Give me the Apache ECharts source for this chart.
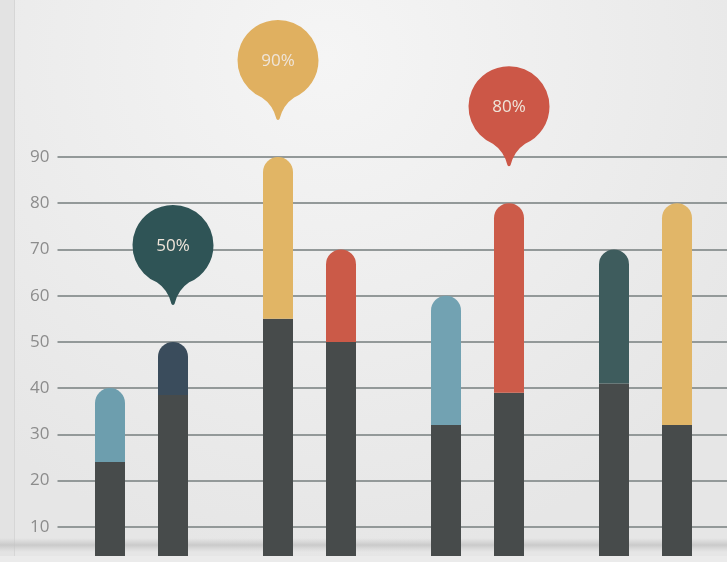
<!DOCTYPE html>
<html>
<head>
<meta charset="utf-8">
<script src="https://cdn.jsdelivr.net/npm/echarts@6/dist/echarts.min.js"></script>
<style>html,body{margin:0;padding:0;background:#ececec;}#c{width:727px;height:562px;}</style>
</head>
<body>
<div id="c"></div>
<script>
// ---- data ----
const groups = ['A', 'B', 'C', 'D'];
const leftBase  = [24, 55, 32, 41];
const leftTotal = [40, 90, 60, 70];
const rightBase  = [38.5, 50, 39, 32];
const rightTotal = [50, 70, 80, 80];
const leftTopColors  = ['#6d9eae', '#e1b565', '#72a2b2', '#3e5c5d'];
const rightTopColors = ['#3a4c5c', '#cb5a48', '#cc5b49', '#e1b668'];
const baseColor = '#474b4b';
const yTicks = [10, 20, 30, 40, 50, 60, 70, 80, 90];
// callouts: [group, text, colour]
const leftPins  = [['B', '90%', '#e0b060']];
const rightPins = [['A', '50%', '#2f5456'], ['C', '80%', '#cc5747']];

const pinPath = 'path://M40,0 A40,40 0 0 1 56,76.7 Q45,84 41.5,98 Q40,100 38.5,98 Q35,84 24,76.7 A40,40 0 0 1 40,0 Z';

function topPart(base, total, colors) {
  return total.map((t, i) => ({ value: t - base[i], itemStyle: { color: colors[i] } }));
}
function pins(list, totals) {
  return list.map(p => {
    const idx = groups.indexOf(p[0]);
    return {
      coord: [p[0], totals[idx]],
      value: p[1],
      itemStyle: { color: p[2] }
    };
  });
}
const markPointBase = {
  symbol: pinPath,
  symbolSize: [81, 100],
  symbolOffset: [0, -87],
  silent: true,
  label: {
    show: true, position: 'inside', offset: [0, -9],
    formatter: p => p.value,
    color: '#efe5da', fontSize: 17, fontFamily: 'Open Sans'
  }
};

const chart = echarts.init(document.getElementById('c'));
chart.setOption({
  animation: false,
  backgroundColor: {
    type: 'radial', x: 0.45, y: 0.1, r: 0.9,
    colorStops: [{ offset: 0, color: '#f5f5f5' }, { offset: 1, color: '#e6e6e6' }]
  },
  grid: { left: 57.5, right: -2.5, top: 157, bottom: -11, containLabel: false, outerBoundsMode: 'none' },
  xAxis: {
    type: 'category', data: groups,
    axisLine: { show: false }, axisTick: { show: false }, axisLabel: { show: false }
  },
  yAxis: {
    type: 'value', min: 0, max: 90, interval: 10,
    axisLine: { show: false }, axisTick: { show: false },
    axisLabel: {
      margin: 8, color: '#8c8c8c', fontSize: 17, fontFamily: 'Open Sans',
      formatter: v => (yTicks.indexOf(v) >= 0 ? String(v) : '')
    },
    splitLine: { lineStyle: { color: '#939999', width: 2 } }
  },
  graphic: [
    { type: 'rect', shape: { x: 0, y: 0, width: 14, height: 562 }, style: { fill: '#e3e3e3' }, z: 0 },
    { type: 'rect', shape: { x: 14, y: 0, width: 1, height: 562 }, style: { fill: '#d6d6d6' }, z: 0 },
    { type: 'rect', shape: { x: 0, y: 538, width: 727, height: 14 },
      style: { fill: { type: 'linear', x: 0, y: 0, x2: 0, y2: 1,
        colorStops: [{ offset: 0, color: 'rgba(200,200,200,0)' }, { offset: 0.5, color: 'rgba(195,195,195,0.8)' }, { offset: 1, color: 'rgba(200,200,200,0)' }] } },
      z: 0 },
    { type: 'rect', shape: { x: 0, y: 556, width: 727, height: 6 }, style: { fill: '#ebebeb' }, z: 100 }
  ],
  series: [
    { type: 'bar', stack: 'L', barWidth: 30, barGap: '110%', data: leftBase, itemStyle: { color: baseColor } },
    { type: 'bar', stack: 'L', barWidth: 30, data: topPart(leftBase, leftTotal, leftTopColors),
      itemStyle: { borderRadius: [15, 15, 0, 0] },
      markPoint: Object.assign({ data: pins(leftPins, leftTotal) }, markPointBase) },
    { type: 'bar', stack: 'R', barWidth: 30, data: rightBase, itemStyle: { color: baseColor } },
    { type: 'bar', stack: 'R', barWidth: 30, data: topPart(rightBase, rightTotal, rightTopColors),
      itemStyle: { borderRadius: [15, 15, 0, 0] },
      markPoint: Object.assign({ data: pins(rightPins, rightTotal) }, markPointBase) }
  ]
});
</script>
</body>
</html>
